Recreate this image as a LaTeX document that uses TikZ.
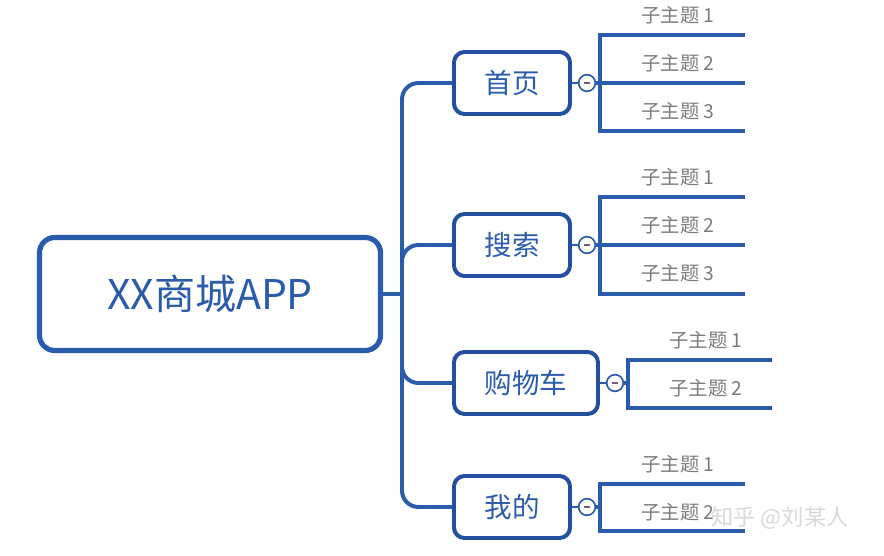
\documentclass[tikz,border=0pt]{standalone}
\usepackage{fontspec}
\setmainfont{Noto Sans CJK SC}
\usepackage{tikz}
\usetikzlibrary{positioning,calc}
\definecolor{mapblue}{HTML}{2B5CAB}
\definecolor{mapnavy}{HTML}{22509E}
\definecolor{mapgray}{HTML}{7C7C7C}

\begin{document}
\begin{tikzpicture}[
  x=0.03cm,y=-0.03cm,
  rootbox/.style={draw=mapblue,line width=4.4pt,rounded corners=13pt,fill=white,minimum width=10.23cm,minimum height=3.39cm,text=mapblue,font=\fontsize{35pt}{38pt}\selectfont},
  topic/.style={draw=mapnavy,line width=3.4pt,rounded corners=9pt,fill=white,minimum height=1.86cm,text=mapblue,font=\fontsize{23.5pt}{26pt}\selectfont},
  branch/.style={draw=mapblue,line width=3.4pt},
  toggle/.style={circle,draw=mapblue,line width=1.4pt,fill=white,minimum size=0.5cm,inner sep=0pt,
    path picture={\draw[mapgray!70!violet,line width=1.1pt]
      ($(path picture bounding box.center)+(-0.1cm,0)$) -- ($(path picture bounding box.center)+(0.1cm,0)$);}},
  sub/.style={text=mapgray,font=\fontsize{16.5pt}{19pt}\selectfont},
]
\useasboundingbox (0,0) rectangle (884,556);

% root and main topics
\node[rootbox] (root) at (210,294) {XX商城APP};
\node[topic,minimum width=3.48cm] (home) at (512,83) {首页};
\node[topic,minimum width=3.48cm] (search) at (512,245) {搜索};
\node[topic,minimum width=4.32cm] (cart) at (526,383) {购物车};
\node[topic,minimum width=3.48cm] (mine) at (512,507) {我的};

% trunk
\coordinate (hub) at (402,294);
\draw[branch] (root.east) -- (hub);
\draw[branch,rounded corners=14pt] (hub) |- (home.west);
\draw[branch,rounded corners=14pt] (hub) |- (search.west);
\draw[branch,rounded corners=14pt] (hub) |- (cart.west);
\draw[branch,rounded corners=14pt] (hub) |- (mine.west);

% collapse buttons
\node[toggle] (thome) at (587,83) {};
\node[toggle] (tsearch) at (587,245) {};
\node[toggle] (tcart) at (615,383) {};
\node[toggle] (tmine) at (587,507) {};
\draw[branch,line width=2pt] (home.east) -- (thome.west);
\draw[branch,line width=2pt] (search.east) -- (tsearch.west);
\draw[branch,line width=2pt] (cart.east) -- (tcart.west);
\draw[branch,line width=2pt] (mine.east) -- (tmine.west);

% sub topics: 首页
\coordinate (h1) at (600,35);  \coordinate (h1e) at (745,35);
\coordinate (h2) at (600,83);  \coordinate (h2e) at (745,83);
\coordinate (h3) at (600,131); \coordinate (h3e) at (745,131);
\draw[branch] (thome.east) -- (h2) -- (h2e);
\draw[branch] (h1e) -- (h1) -- (h3) -- (h3e);
\node[sub] (hs1) at (678,15) {子主题 1};
\node[sub] (hs2) at (678,63) {子主题 2};
\node[sub] (hs3) at (678,111) {子主题 3};

% sub topics: 搜索
\coordinate (s1) at (600,197); \coordinate (s1e) at (745,197);
\coordinate (s2) at (600,245); \coordinate (s2e) at (745,245);
\coordinate (s3) at (600,294); \coordinate (s3e) at (745,294);
\draw[branch] (tsearch.east) -- (s2) -- (s2e);
\draw[branch] (s1e) -- (s1) -- (s3) -- (s3e);
\node[sub] (ss1) at (678,177) {子主题 1};
\node[sub] (ss2) at (678,225) {子主题 2};
\node[sub] (ss3) at (678,273) {子主题 3};

% sub topics: 购物车
\coordinate (c1) at (628,360); \coordinate (c1e) at (772,360);
\coordinate (c2) at (628,408); \coordinate (c2e) at (772,408);
\draw[branch] (tcart.east) -- (c1 |- tcart);
\draw[branch] (c1e) -- (c1) -- (c2) -- (c2e);
\node[sub] (cs1) at (706,340) {子主题 1};
\node[sub] (cs2) at (706,388) {子主题 2};

% sub topics: 我的
\coordinate (m1) at (600,484); \coordinate (m1e) at (745,484);
\coordinate (m2) at (600,531); \coordinate (m2e) at (745,531);
\draw[branch] (tmine.east) -- (m1 |- tmine);
\draw[branch] (m1e) -- (m1) -- (m2) -- (m2e);
\node[sub] (ms1) at (678,464) {子主题 1};
\node[sub] (ms2) at (678,512) {子主题 2};

% watermark
\node[text=gray!35,opacity=0.85,font=\fontsize{19pt}{21pt}\selectfont] (mark) at (780,518) {知乎 @刘某人};
\end{tikzpicture}
\end{document}
